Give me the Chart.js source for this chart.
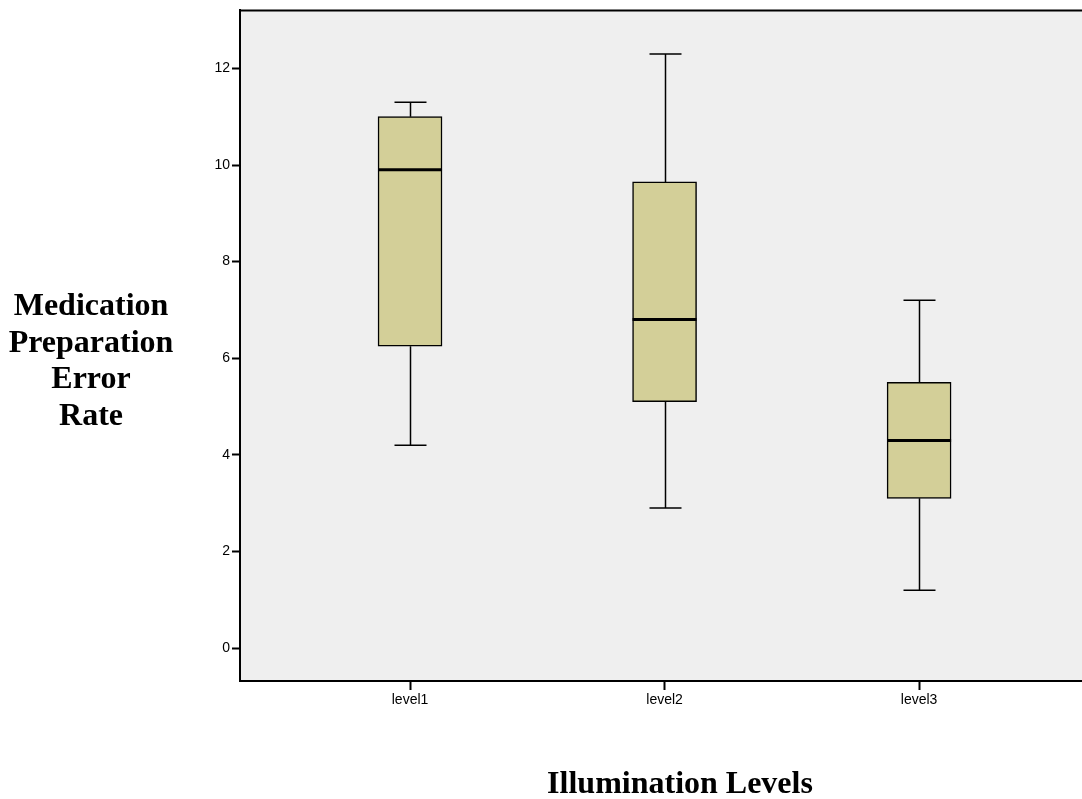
<!DOCTYPE html>
<html>
<head>
<meta charset="utf-8">
<script src="https://cdn.jsdelivr.net/npm/chart.js@4.4.1/dist/chart.umd.min.js"></script>
<style>
html,body{margin:0;padding:0;background:#fff;}
#wrap{position:relative;width:1082px;height:799px;}
</style>
</head>
<body>
<div id="wrap"><canvas id="c" width="1082" height="799"></canvas></div>
<script>
const categories = ["level1", "level2", "level3"];
const whiskerLow  = [4.2, 2.9, 1.2];
const quartile1   = [6.25, 5.1, 3.1];
const medians     = [9.9, 6.8, 4.3];
const quartile3   = [11.0, 9.65, 5.5];
const whiskerHigh = [11.3, 12.3, 7.2];
const yTicks = [0, 2, 4, 6, 8, 10, 12];
const yTitleLines = ["Medication", "Preparation", "Error", "Rate"];
const xTitle = "Illumination Levels";

const boxData = categories.map((c, i) => ({x: i, y: [quartile1[i], quartile3[i]]}));

const boxPlugin = {
  id: 'boxExtras',
  beforeDraw(chart) {
    const {ctx, chartArea: a} = chart;
    ctx.save();
    ctx.fillStyle = '#efefef';
    ctx.fillRect(a.left, a.top, a.right - a.left, a.bottom - a.top);
    ctx.restore();
  },
  beforeDatasetsDraw(chart) {
    const {ctx} = chart;
    const xs = chart.scales.x, ys = chart.scales.y;
    ctx.save();
    ctx.strokeStyle = '#000';
    ctx.lineWidth = 1.5;
    categories.forEach((c, i) => {
      const cx = Math.round(xs.getPixelForValue(i)) + 0.5;
      const yLo = ys.getPixelForValue(whiskerLow[i]);
      const yHi = ys.getPixelForValue(whiskerHigh[i]);
      const yQ1 = ys.getPixelForValue(quartile1[i]);
      const yQ3 = ys.getPixelForValue(quartile3[i]);
      ctx.beginPath();
      ctx.moveTo(cx, yHi); ctx.lineTo(cx, yQ3);
      ctx.moveTo(cx, yQ1); ctx.lineTo(cx, yLo);
      ctx.moveTo(cx - 16, yHi); ctx.lineTo(cx + 16, yHi);
      ctx.moveTo(cx - 16, yLo); ctx.lineTo(cx + 16, yLo);
      ctx.stroke();
    });
    ctx.restore();
  },
  afterDatasetsDraw(chart) {
    const {ctx, chartArea: a} = chart;
    const xs = chart.scales.x, ys = chart.scales.y;
    ctx.save();
    ctx.strokeStyle = '#000';
    ctx.lineWidth = 3;
    categories.forEach((c, i) => {
      const cx = xs.getPixelForValue(i);
      const ym = ys.getPixelForValue(medians[i]);
      ctx.beginPath();
      ctx.moveTo(cx - 32, ym); ctx.lineTo(cx + 32, ym);
      ctx.stroke();
    });
    // top border
    ctx.lineWidth = 2;
    ctx.beginPath();
    ctx.moveTo(a.left, a.top); ctx.lineTo(a.right, a.top);
    ctx.stroke();
    // titles
    ctx.fillStyle = '#000';
    ctx.font = 'bold 32px "Liberation Serif", "Times New Roman", serif';
    ctx.textAlign = 'center';
    ctx.textBaseline = 'alphabetic';
    const base = [315, 351.5, 388, 424.5];
    yTitleLines.forEach((t, k) => ctx.fillText(t, 91, base[k]));
    ctx.fillText(xTitle, 680, 793);
    ctx.restore();
  }
};

new Chart(document.getElementById('c'), {
  type: 'bar',
  data: {
    datasets: [{
      data: boxData,
      backgroundColor: '#d3cf98',
      borderColor: '#000',
      borderWidth: 1.5,
      borderSkipped: false,
      barThickness: 64
    }]
  },
  options: {
    responsive: false,
    animation: false,
    events: [],
    layout: {padding: {top: 10, right: 0, left: 0, bottom: 0}},
    plugins: {legend: {display: false}, tooltip: {enabled: false}},
    scales: {
      x: {
        type: 'linear',
        min: -0.668,
        max: 2.64,
        offset: false,
        afterBuildTicks(s) { s.ticks = categories.map((c, i) => ({value: i})); },
        afterFit(s) { s.height = 118; },
        ticks: {
          callback: (v) => categories[v] !== undefined ? categories[v] : '',
          color: '#000',
          font: {family: '"Liberation Sans", Arial, sans-serif', size: 14},
          padding: 2,
          maxRotation: 0,
          autoSkip: false
        },
        grid: {drawOnChartArea: false, offset: false, color: '#000', tickLength: 9, tickWidth: 2},
        border: {color: '#000', width: 2}
      },
      y: {
        min: -0.68,
        max: 13.2,
        afterBuildTicks(s) { s.ticks = yTicks.map(v => ({value: v})); },
        afterFit(s) { s.width = 240; },
        ticks: {
          color: '#000',
          font: {family: '"Liberation Sans", Arial, sans-serif', size: 14},
          padding: 2
        },
        grid: {drawOnChartArea: false, offset: false, color: '#000', tickLength: 8, tickWidth: 2},
        border: {color: '#000', width: 2}
      }
    }
  },
  plugins: [boxPlugin]
});
</script>
</body>
</html>
